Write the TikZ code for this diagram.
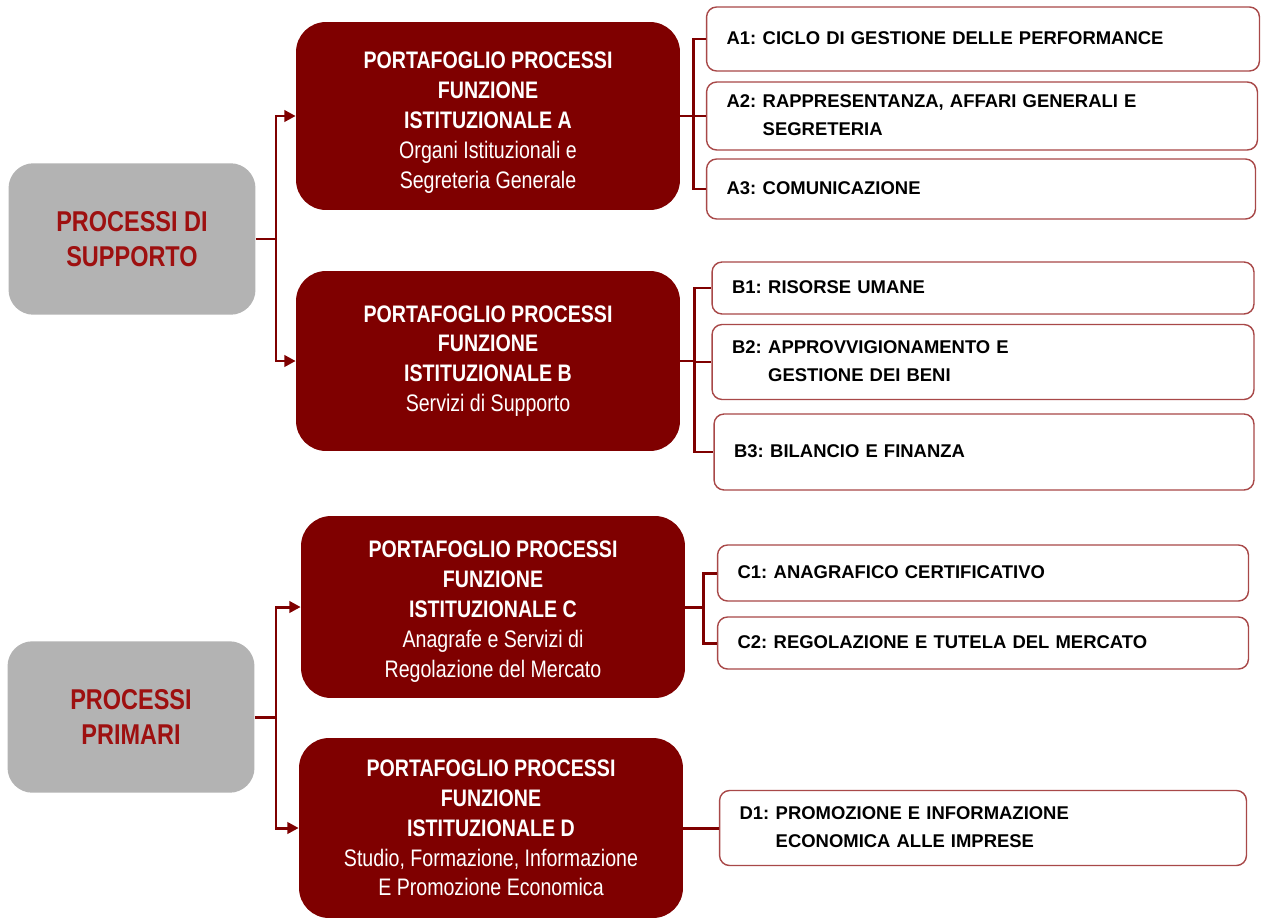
\documentclass[tikz,border=0pt]{standalone}
\usepackage{fontspec}
\setmainfont{Liberation Sans}
\newfontfamily\narrowfont{Liberation Sans}[FakeStretch=0.82]
\usepackage{xcolor}
\usepackage{tikz}
\usetikzlibrary{arrows.meta,positioning}

\definecolor{scuro}{HTML}{7F0000}
\definecolor{grigio}{HTML}{B3B3B3}
\definecolor{titolo}{HTML}{9E1010}
\definecolor{bordo}{HTML}{A84848}

\newcommand{\voce}[2]{\begin{tabular}{@{}l@{\hspace{0.35em}}l@{}}#1 & #2\end{tabular}}

\begin{document}
\begin{tikzpicture}[x=0.02cm,y=-0.02cm,
    area/.style={fill=grigio, rounded corners=0.5cm, minimum width=4.94cm, minimum height=3.03cm,
      align=center, text=titolo, font=\narrowfont\fontsize{16.3}{20}\selectfont\bfseries},
    portafoglio/.style={fill=scuro, rounded corners=0.6cm, minimum width=7.68cm,
      align=center, text=white, font=\narrowfont\fontsize{13.6}{17}\selectfont},
    processo/.style={draw=bordo, line width=0.8pt, fill=white, rounded corners=0.2cm,
      inner xsep=0.4cm, align=left, font=\fontsize{10.5}{16}\selectfont\bfseries},
    conn/.style={draw=scuro, line width=1.7pt},
    freccia/.style={conn, -{Triangle[length=6.5pt,width=6.5pt]}}]
    \fill[white] (0,0) rectangle (1263,919);
    \useasboundingbox (0,0) rectangle (1263,919);

    % aree
    \node[area] (sup) at (132,239) {PROCESSI DI\\SUPPORTO};
    \node[area] (pri) at (131,717) {PROCESSI\\PRIMARI};

    % portafogli
    \node[portafoglio, minimum height=3.76cm] (pA) at (488,116)
      {\rule{0pt}{17pt}\textbf{PORTAFOGLIO PROCESSI}\\\textbf{FUNZIONE}\\\textbf{ISTITUZIONALE A}\\Organi Istituzionali e\\Segreteria Generale};
    \node[portafoglio, minimum height=3.6cm] (pB) at (488,361)
      {\textbf{PORTAFOGLIO PROCESSI}\\\textbf{FUNZIONE}\\\textbf{ISTITUZIONALE B}\\Servizi di Supporto};
    \node[portafoglio, minimum height=3.64cm] (pC) at (493,607)
      {\rule{0pt}{14.5pt}\textbf{PORTAFOGLIO PROCESSI}\\\textbf{FUNZIONE}\\\textbf{ISTITUZIONALE C}\\Anagrafe e Servizi di\\Regolazione del Mercato};
    \node[portafoglio, minimum height=3.6cm] (pD) at (491,828)
      {\textbf{PORTAFOGLIO PROCESSI}\\\textbf{FUNZIONE}\\\textbf{ISTITUZIONALE D}\\Studio, Formazione, Informazione\\E Promozione Economica};

    % processi
    \node[processo, text width=10.26cm, minimum height=1.28cm] (a1) at (983,39) {\voce{A1:}{CICLO DI GESTIONE DELLE PERFORMANCE}};
    \node[processo, text width=10.22cm, minimum height=1.24cm] (a2) at (982,116) {\voce{A2:}{RAPPRESENTANZA, AFFARI GENERALI E\\ & SEGRETERIA}};
    \node[processo, text width=10.18cm, minimum height=1.2cm] (a3) at (981,189) {\voce{A3:}{COMUNICAZIONE}};
    \node[processo, text width=10.04cm, minimum height=1.04cm] (b1) at (983,288) {\voce{B1:}{RISORSE UMANE}};
    \node[processo, text width=10.04cm, minimum height=1.5cm] (b2) at (983,362) {\voce{B2:}{APPROVVIGIONAMENTO E\\ & GESTIONE DEI BENI}};
    \node[processo, text width=10.0cm, minimum height=1.52cm] (b3) at (984,452) {\voce{B3:}{BILANCIO E FINANZA}};
    \node[processo, text width=9.82cm, minimum height=1.12cm] (c1) at (983,573) {\voce{C1:}{ANAGRAFICO CERTIFICATIVO}};
    \node[processo, text width=9.82cm, minimum height=1.04cm] (c2) at (983,643) {\voce{C2:}{REGOLAZIONE E TUTELA DEL MERCATO}};
    \node[processo, text width=9.74cm, minimum height=1.5cm] (d1) at (983,828) {\voce{D1:}{PROMOZIONE E INFORMAZIONE\\ & ECONOMICA ALLE IMPRESE}};

    % snodi
    \coordinate (jS) at (276,239);
    \coordinate (jP) at (276,717);
    \coordinate (jA) at (693,116);
    \coordinate (jB) at (694,361);
    \coordinate (jC) at (703,607);

    \draw[conn] (sup.east) -- (jS);
    \draw[freccia] (jS) |- (pA.west);
    \draw[freccia] (jS) |- (pB.west);
    \draw[conn] (pri.east) -- (jP);
    \draw[freccia] (jP) |- (pC.west);
    \draw[freccia] (jP) |- (pD.west);

    \draw[conn] (pA.east) -- (jA);
    \draw[conn] (jA) |- (a1.west);
    \draw[conn] (jA) -- (a2.west);
    \draw[conn] (jA) |- (a3.west);
    \draw[conn] (pB.east) -- (jB);
    \draw[conn] (jB) |- (b1.west);
    \draw[conn] (jB) |- (b2.west);
    \draw[conn] (jB) |- (b3.west);
    \draw[conn] (pC.east) -- (jC);
    \draw[conn] (jC) |- (c1.west);
    \draw[conn] (jC) |- (c2.west);
    \draw[conn] (pD.east) -- (d1.west);
\end{tikzpicture}
\end{document}
